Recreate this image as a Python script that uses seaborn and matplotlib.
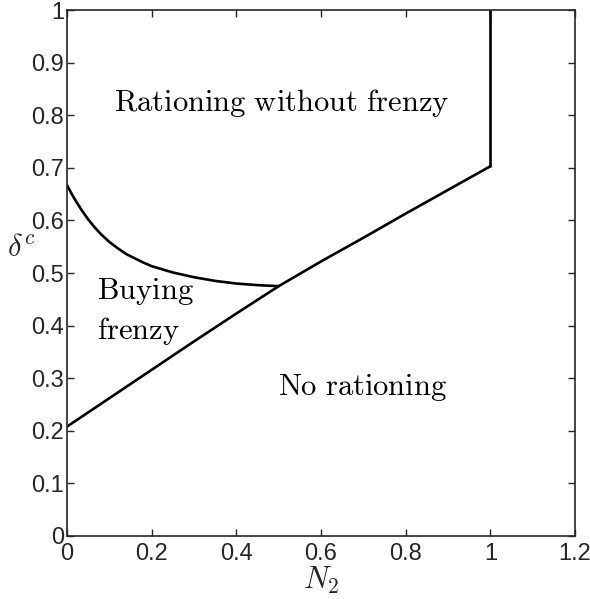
import matplotlib
matplotlib.use("Agg")
import matplotlib.pyplot as plt
import seaborn as sns

# lower boundary (no rationing / frenzy)
lower_x = [0.0, 0.1, 0.2, 0.3, 0.4, 0.5, 0.6, 0.7, 0.8, 0.9, 1.0]
lower_y = [0.208, 0.262, 0.316, 0.370, 0.423, 0.475, 0.522, 0.567, 0.613, 0.658, 0.703]

# upper boundary of buying frenzy region
upper_x = [0.0, 0.01, 0.02, 0.035, 0.05, 0.065, 0.08, 0.1, 0.12, 0.14, 0.16, 0.18,
           0.2, 0.25, 0.3, 0.35, 0.4, 0.45, 0.5]
upper_y = [0.667, 0.652, 0.638, 0.619, 0.602, 0.587, 0.574, 0.559, 0.547, 0.536, 0.528, 0.520,
           0.513, 0.501, 0.492, 0.485, 0.480, 0.477, 0.475]

# vertical boundary at N2 = 1
vert_x = [1.0, 1.0]
vert_y = [0.703, 1.0]

x_ticks = [0, 0.2, 0.4, 0.6, 0.8, 1, 1.2]
x_tick_labels = ["0", "0.2", "0.4", "0.6", "0.8", "1", "1.2"]
y_ticks = [0, 0.1, 0.2, 0.3, 0.4, 0.5, 0.6, 0.7, 0.8, 0.9, 1]
y_tick_labels = ["0", "0.1", "0.2", "0.3", "0.4", "0.5", "0.6", "0.7", "0.8", "0.9", "1"]

sns.set_style("ticks")
plt.rcParams["font.family"] = ["Liberation Sans", "DejaVu Sans"]
plt.rcParams["mathtext.fontset"] = "cm"

fig = plt.figure(figsize=(5.9, 5.99), dpi=100)
ax = fig.add_axes([0.1136, 0.1052, 0.861, 0.878])

for xs, ys in [(lower_x, lower_y), (upper_x, upper_y), (vert_x, vert_y)]:
    sns.lineplot(x=xs, y=ys, ax=ax, color="black", linewidth=1.9,
                 sort=False, estimator=None)

ax.set_xlim(0, 1.2)
ax.set_ylim(0, 1)
ax.set_xticks(x_ticks)
ax.set_xticklabels(x_tick_labels)
ax.set_yticks(y_ticks)
ax.set_yticklabels(y_tick_labels)
ax.tick_params(direction="in", top=True, right=True, length=5, width=1,
               labelsize=17)
ax.tick_params(axis="x", pad=5)
ax.tick_params(axis="y", pad=2)
for s in ax.spines.values():
    s.set_linewidth(1.2)
    s.set_visible(True)

ax.set_xlabel(r"$N_2$", fontsize=22)
ax.xaxis.set_label_coords(0.5, -0.054)
ax.set_ylabel(r"$\delta^c$", fontsize=22, rotation=0)
ax.yaxis.set_label_coords(-0.09, 0.52)

txt = dict(fontsize=22, color="black")
ax.text(0.506, 0.823, r"$\mathrm{Rationing\ without\ frenzy}$", ha="center", va="center", **txt)
ax.text(0.071, 0.465, r"$\mathrm{Buying}$", ha="left", va="center", **txt)
ax.text(0.071, 0.39, r"$\mathrm{frenzy}$", ha="left", va="center", **txt)
ax.text(0.698, 0.283, r"$\mathrm{No\ rationing}$", ha="center", va="center", **txt)

fig.savefig("out.png", dpi=100)
